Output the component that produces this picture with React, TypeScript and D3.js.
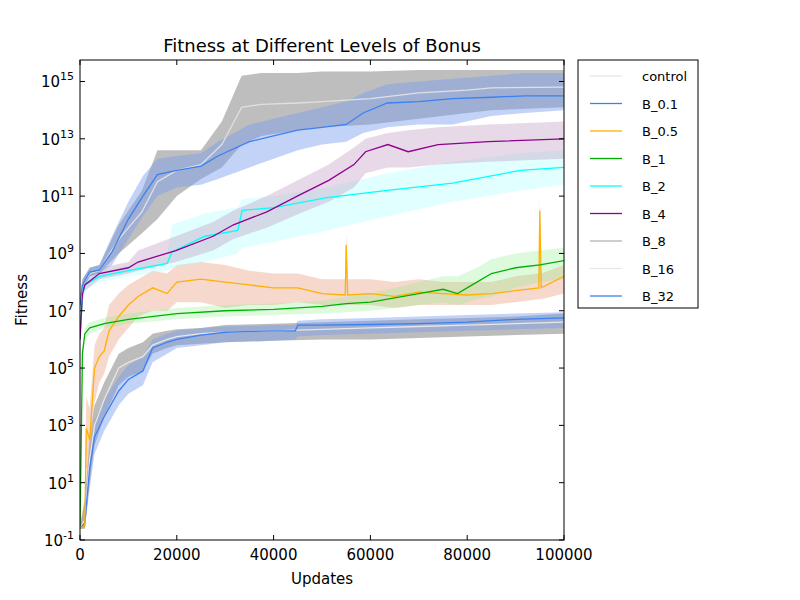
import * as d3 from 'd3'

// x in thousands of updates, values as log10(fitness)
const b01U = [0, 0.5, 2, 4, 6.6, 10, 13, 16, 20, 25, 28.5, 35, 40, 45, 50, 55, 58.5, 63.5, 70, 77, 85, 92, 100]
const b01 = [7.2, 7.9, 8.35, 8.42, 9.05, 10.2, 11.0, 11.75, 11.9, 12.05, 12.4, 12.9, 13.1, 13.3, 13.4, 13.5, 13.9, 14.25, 14.3, 14.4, 14.45, 14.5, 14.5]
const b01Lo = [7.0, 7.7, 8.2, 8.3, 8.6, 9.5, 10.3, 11.0, 11.3, 11.4, 11.6, 12.0, 12.3, 12.6, 12.8, 12.9, 13.2, 13.4, 13.5, 13.5, 13.8, 13.9, 14.0]
const b01Hi = [7.4, 8.1, 8.5, 8.6, 9.6, 10.8, 11.7, 12.3, 12.4, 12.5, 12.9, 13.5, 13.7, 13.9, 14.1, 14.3, 14.6, 14.9, 15.0, 15.1, 15.2, 15.3, 15.3]

const b8U = [0, 0.5, 2, 4, 8, 12.8, 16, 20, 25, 29.3, 33.4, 37.5, 45, 50, 60, 70, 80, 85, 100]
const b8 = [7.2, 7.9, 8.3, 8.4, 9.5, 10.45, 11.5, 11.9, 12.1, 12.8, 14.1, 14.2, 14.25, 14.3, 14.4, 14.6, 14.7, 14.78, 14.8]
const b8Lo = [7.0, 7.7, 8.2, 8.3, 9.0, 9.7, 10.2, 11.0, 11.6, 12.0, 12.8, 13.1, 13.3, 13.4, 13.5, 13.7, 13.9, 14.0, 14.1]
const b8Hi = [7.4, 8.1, 8.5, 8.6, 10.0, 11.2, 12.6, 12.6, 12.6, 13.6, 15.2, 15.3, 15.3, 15.35, 15.35, 15.4, 15.4, 15.4, 15.4]

const b4U = [0, 0.5, 1, 4, 10, 12, 19.8, 27.5, 31.7, 38.6, 45.5, 51.4, 56.6, 59, 63.6, 67.8, 74, 84.3, 100]
const b4 = [6.0, 7.6, 7.9, 8.3, 8.5, 8.7, 9.1, 9.6, 10.0, 10.45, 11.05, 11.55, 12.1, 12.55, 12.8, 12.55, 12.8, 12.9, 13.0]
const b4Lo = [5.8, 7.4, 7.7, 8.1, 8.3, 8.4, 8.7, 9.1, 9.5, 9.9, 10.4, 10.8, 11.3, 11.8, 12.0, 12.0, 12.1, 12.2, 12.3]
const b4Hi = [6.2, 7.8, 8.1, 8.5, 8.7, 9.1, 9.6, 10.1, 10.5, 11.0, 11.6, 12.1, 12.7, 13.0, 13.2, 13.3, 13.4, 13.5, 13.6]

const b2U = [0, 0.5, 1, 4, 10, 18, 19, 25.8, 32.6, 33.5, 40, 51, 63.5, 77, 91, 100]
const b2 = [6.0, 7.5, 7.9, 8.2, 8.4, 8.65, 9.05, 9.6, 9.8, 10.5, 10.6, 10.95, 11.2, 11.45, 11.9, 12.0]
const b2Lo = [5.8, 7.3, 7.7, 8.0, 8.2, 8.4, 8.5, 8.7, 9.0, 9.2, 9.4, 9.8, 10.3, 10.8, 11.2, 11.4]
const b2Hi = [6.2, 7.7, 8.1, 8.4, 8.6, 8.9, 10.0, 10.4, 10.6, 10.9, 11.0, 11.3, 11.8, 12.2, 12.5, 12.6]

const b05U = [0, 1, 1.3, 2, 3, 4, 5, 6, 8, 10, 12, 15, 18, 20, 25, 30, 35, 40, 45, 50, 54.8, 55, 55.3, 60, 65, 70, 75, 80, 85, 90, 94.8, 95, 95.3, 100]
const b05 = [-0.6, -0.5, 2.9, 2.5, 5.0, 5.4, 5.6, 6.3, 6.8, 7.2, 7.5, 7.8, 7.6, 8.0, 8.1, 8.0, 7.9, 7.8, 7.8, 7.6, 7.55, 9.3, 7.55, 7.6, 7.5, 7.65, 7.6, 7.55, 7.6, 7.7, 7.8, 10.5, 7.8, 8.2]
const b05Lo = [-0.6, -0.6, 1.5, 1.5, 3.8, 4.5, 4.8, 5.4, 6.0, 6.4, 6.8, 7.0, 7.0, 7.3, 7.3, 7.1, 7.2, 7.2, 7.3, 7.2, 7.2, 7.2, 7.2, 7.2, 7.1, 7.2, 7.2, 7.2, 7.2, 7.3, 7.4, 7.4, 7.4, 7.6]
const b05Hi = [-0.5, 0.5, 4.0, 3.6, 5.8, 6.2, 6.4, 7.2, 7.6, 7.9, 8.1, 8.4, 8.3, 8.6, 8.7, 8.6, 8.4, 8.3, 8.3, 8.1, 8.1, 9.7, 8.1, 8.1, 8.0, 8.1, 8.0, 8.0, 8.0, 8.2, 8.3, 10.9, 8.3, 8.6]

const b1U = [0, 0.3, 0.5, 1, 2, 5, 10, 20, 30, 40, 50, 55, 60, 65, 70, 75, 78, 82, 85, 90, 95, 100]
const b1 = [-0.5, 3.0, 5.5, 6.2, 6.4, 6.55, 6.7, 6.9, 7.0, 7.05, 7.15, 7.25, 7.3, 7.45, 7.6, 7.75, 7.6, 8.0, 8.3, 8.5, 8.6, 8.75]
const b1Lo = [-0.5, 2.8, 5.3, 6.0, 6.2, 6.4, 6.55, 6.7, 6.8, 6.85, 6.9, 6.95, 7.0, 7.1, 7.2, 7.3, 7.2, 7.4, 7.5, 7.8, 8.0, 8.1]
const b1Hi = [-0.5, 3.2, 5.7, 6.4, 6.6, 6.75, 6.9, 7.1, 7.2, 7.25, 7.35, 7.5, 7.6, 7.8, 8.0, 8.2, 8.2, 8.5, 8.8, 9.0, 9.1, 9.2]

const b32U = [0, 1, 2, 3, 5, 8, 10, 13, 15, 18, 20, 25, 30, 40, 44.5, 45, 50, 60, 70, 80, 90, 100]
const b32 = [-0.6, -0.4, 1.5, 2.6, 3.3, 4.2, 4.6, 4.9, 5.7, 5.9, 6.0, 6.15, 6.25, 6.3, 6.3, 6.5, 6.5, 6.52, 6.55, 6.6, 6.7, 6.75]
const b32Lo = [-0.6, -0.6, 0.8, 2.0, 2.8, 3.7, 4.1, 4.4, 5.2, 5.5, 5.7, 5.8, 5.9, 5.95, 6.0, 6.1, 6.15, 6.2, 6.25, 6.3, 6.35, 6.4]
const b32Hi = [-0.5, 0.2, 2.2, 3.2, 3.9, 4.7, 5.1, 5.4, 6.0, 6.2, 6.3, 6.4, 6.45, 6.5, 6.5, 6.65, 6.7, 6.75, 6.8, 6.85, 6.9, 6.95]

const ctrlU = [0, 1, 2, 3, 5, 8, 10, 13, 15, 18, 20, 25, 30, 40, 50, 60, 70, 80, 90, 100]
const ctrl = [-0.6, -0.3, 1.8, 3.0, 3.9, 5.0, 5.2, 5.4, 5.8, 6.0, 6.1, 6.2, 6.25, 6.3, 6.35, 6.4, 6.45, 6.5, 6.55, 6.6]
const ctrlLo = [-0.6, -0.6, 1.0, 2.3, 3.3, 4.4, 4.7, 4.9, 5.5, 5.7, 5.8, 5.85, 5.9, 5.95, 6.0, 6.0, 6.05, 6.1, 6.15, 6.2]
const ctrlHi = [-0.5, 0.4, 2.6, 3.7, 4.5, 5.5, 5.7, 5.9, 6.2, 6.3, 6.35, 6.4, 6.5, 6.55, 6.6, 6.65, 6.7, 6.75, 6.8, 6.9]

const legendNames = ['control', 'B_0.1', 'B_0.5', 'B_1', 'B_2', 'B_4', 'B_8', 'B_16', 'B_32']
const legendColors = ['#e6e6e6', '#3a80f0', '#ffb000', '#00b000', '#00ffff', '#900090', '#b4b4b4', '#e6e6e6', '#3a80f0']
const yTicks = [-1, 1, 3, 5, 7, 9, 11, 13, 15]
const xTicks = [0, 20000, 40000, 60000, 80000, 100000]

interface ISeries { u: number[], v: number[], lo: number[], hi: number[], line: string, fill: string, fillOpacity: number }

// draw order: bands under lines, upper groups last
const series: ISeries[] = [
  { u: ctrlU, v: ctrl, lo: ctrlLo, hi: ctrlHi, line: '#e6e6e6', fill: '#a0a0a0', fillOpacity: 0.7 },
  { u: b32U, v: b32, lo: b32Lo, hi: b32Hi, line: '#3a80f0', fill: '#7a9ef0', fillOpacity: 0.45 },
  { u: b05U, v: b05, lo: b05Lo, hi: b05Hi, line: '#ffb000', fill: '#e8a080', fillOpacity: 0.4 },
  { u: b1U, v: b1, lo: b1Lo, hi: b1Hi, line: '#00b000', fill: '#90f090', fillOpacity: 0.3 },
  { u: b2U, v: b2, lo: b2Lo, hi: b2Hi, line: '#00ffff', fill: '#a0ffff', fillOpacity: 0.3 },
  { u: b4U, v: b4, lo: b4Lo, hi: b4Hi, line: '#900090', fill: '#b080b0', fillOpacity: 0.3 },
  { u: b8U, v: b8, lo: b8Lo, hi: b8Hi, line: '#e0e0e0', fill: '#a8a8a8', fillOpacity: 0.75 },
  { u: b01U, v: b01, lo: b01Lo, hi: b01Hi, line: '#3a80f0', fill: '#7a9ef0', fillOpacity: 0.45 },
]

const M = { left: 80, top: 60, right: 564, bottom: 540 }

export default function App() {
  const x = d3.scaleLinear().domain([0, 100000]).range([M.left, M.right])
  const y = d3.scaleLog().domain([0.1, Math.pow(10, 15.75)]).range([M.bottom, M.top])
  const line = (s: ISeries) => d3.line<number>().x((_, i) => x(s.u[i] * 1000)).y(d => y(Math.pow(10, d)))(s.v) || ''
  const area = (s: ISeries) => d3.area<number>().x((_, i) => x(s.u[i] * 1000))
    .y0((_, i) => y(Math.pow(10, s.lo[i]))).y1((_, i) => y(Math.pow(10, s.hi[i])))(s.lo) || ''
  const font = 'DejaVu Sans, sans-serif'

  return <svg width={800} height={600} style={{ position: 'absolute', left: 0, top: 0, fontFamily: font }}>
    <rect width={800} height={600} fill="#fff" />
    <defs><clipPath id="plot"><rect x={M.left} y={M.top} width={M.right - M.left} height={M.bottom - M.top} /></clipPath></defs>
    <g clipPath="url(#plot)">
      {series.map((s, i) => <path key={'a' + i} d={area(s)} fill={s.fill} fillOpacity={s.fillOpacity} />)}
      {series.map((s, i) => <path key={'l' + i} d={line(s)} fill="none" stroke={s.line} strokeWidth={1.3} />)}
    </g>
    <rect x={M.left} y={M.top} width={M.right - M.left} height={M.bottom - M.top} fill="none" stroke="#000" />
    {xTicks.map(t => <g key={t}>
      <line x1={x(t)} x2={x(t)} y1={M.bottom} y2={M.bottom - 5} stroke="#000" />
      <line x1={x(t)} x2={x(t)} y1={M.top} y2={M.top + 5} stroke="#000" />
      <text x={x(t)} y={M.bottom + 20} textAnchor="middle" fontSize={15}>{t}</text>
    </g>)}
    {yTicks.map(t => <g key={t}>
      <line x1={M.left} x2={M.left + 5} y1={y(Math.pow(10, t))} y2={y(Math.pow(10, t))} stroke="#000" />
      <line x1={M.right} x2={M.right - 5} y1={y(Math.pow(10, t))} y2={y(Math.pow(10, t))} stroke="#000" />
      <text x={M.left - 6} y={y(Math.pow(10, t)) + 6} textAnchor="end" fontSize={15}>10<tspan dy={-7} fontSize={11}>{t}</tspan></text>
    </g>)}
    <text x={(M.left + M.right) / 2} y={52} textAnchor="middle" fontSize={18}>Fitness at Different Levels of Bonus</text>
    <text x={(M.left + M.right) / 2} y={584} textAnchor="middle" fontSize={15}>Updates</text>
    <text transform={`translate(27,${(M.top + M.bottom) / 2}) rotate(-90)`} textAnchor="middle" fontSize={15}>Fitness</text>
    <rect x={578} y={60} width={120} height={248} fill="#fff" stroke="#000" />
    {legendNames.map((n, i) => <g key={n}>
      <line x1={590} x2={622} y1={76 + i * 27.5} y2={76 + i * 27.5} stroke={legendColors[i]} strokeWidth={1.3} />
      <text x={642} y={81 + i * 27.5} fontSize={13}>{n}</text>
    </g>)}
  </svg>
}
